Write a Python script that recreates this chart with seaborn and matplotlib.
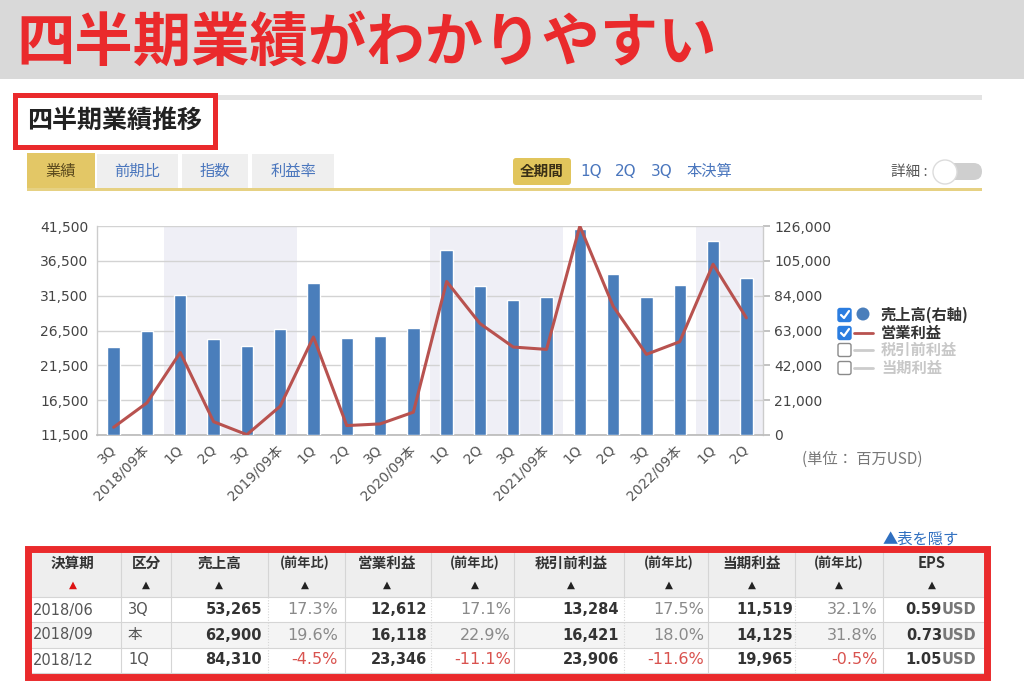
import matplotlib
matplotlib.use("Agg")
import matplotlib.pyplot as plt
import seaborn as sns
import pandas as pd
import numpy as np
from matplotlib.patches import Rectangle, FancyBboxPatch, Circle
from matplotlib.lines import Line2D

# ---------------- data ----------------
periods = ["2018/06", "2018/09", "2018/12", "2019/03", "2019/06", "2019/09",
           "2019/12", "2020/03", "2020/06", "2020/09", "2020/12", "2021/03",
           "2021/06", "2021/09", "2021/12", "2022/03", "2022/06", "2022/09",
           "2022/12", "2023/03"]
tick_labels = ["3Q", "2018/09本", "1Q", "2Q", "3Q", "2019/09本", "1Q", "2Q", "3Q",
               "2020/09本", "1Q", "2Q", "3Q", "2021/09本", "1Q", "2Q", "3Q",
               "2022/09本", "1Q", "2Q"]
fiscal_year = [2018, 2018, 2019, 2019, 2019, 2019, 2020, 2020, 2020, 2020,
               2021, 2021, 2021, 2021, 2022, 2022, 2022, 2022, 2023, 2023]
sales = [53265, 62900, 84310, 58015, 53809, 64040, 91819, 58313, 59685, 64698,
         111439, 89584, 81434, 83360, 123945, 97278, 82959, 90146, 117154, 94836]
op_income = [12612, 16118, 23346, 13415, 11544, 15625, 25569, 12853, 13091, 14775,
             33534, 27503, 24126, 23786, 41488, 29979, 23076, 24894, 36016, 28318]
left_ticks = [11500, 16500, 21500, 26500, 31500, 36500, 41500]
right_ticks = [0, 21000, 42000, 63000, 84000, 105000, 126000]

banner_title = "四半期業績がわかりやすい"
section_title = "四半期業績推移"
tabs = ["業績", "前期比", "指数", "利益率"]
period_buttons = ["全期間", "1Q", "2Q", "3Q", "本決算"]
legend_labels = ["売上高(右軸)", "営業利益", "税引前利益", "当期利益"]
legend_checked = [True, True, False, False]
unit_text = "(単位： 百万USD)"
hide_text = "▲表を隠す"

table_header = ["決算期", "区分", "売上高", "(前年比)", "営業利益", "(前年比)",
                "税引前利益", "(前年比)", "当期利益", "(前年比)", "EPS"]
tbl_period = ["2018/06", "2018/09", "2018/12"]
tbl_kind = ["3Q", "本", "1Q"]
tbl_sales = ["53,265", "62,900", "84,310"]
tbl_sales_yoy = ["17.3%", "19.6%", "-4.5%"]
tbl_op = ["12,612", "16,118", "23,346"]
tbl_op_yoy = ["17.1%", "22.9%", "-11.1%"]
tbl_pretax = ["13,284", "16,421", "23,906"]
tbl_pretax_yoy = ["17.5%", "18.0%", "-11.6%"]
tbl_net = ["11,519", "14,125", "19,965"]
tbl_net_yoy = ["32.1%", "31.8%", "-0.5%"]
tbl_eps = ["0.59", "0.73", "1.05"]

# ---------------- style ----------------
sns.set_theme(style="white")
plt.rcParams['font.family'] = ['Noto Sans CJK JP', 'DejaVu Sans']
LAT = ['DejaVu Sans', 'Noto Sans CJK JP']

RED = '#ea2a2c'
BLUE_TXT = '#4a76bd'
BAR = '#4a7ebb'
LINE = '#b8524f'

W, H = 1024, 683
fig = plt.figure(figsize=(W / 100, H / 100), dpi=100)
fig.patch.set_facecolor('white')

bg = fig.add_axes([0, 0, 1, 1], zorder=0)
bg.set_xlim(0, W)
bg.set_ylim(H, 0)
bg.axis('off')

def rect(x, y, w, h, **kw):
    bg.add_patch(Rectangle((x, y), w, h, **kw))

# banner
rect(0, 0, W, 79, fc='#d9d9d9', ec='none')
bg.text(16, 44, banner_title, fontsize=42, fontweight='bold', color=RED,
        va='center', ha='left')

# section header
rect(15, 95, 967, 5, fc='#e3e3e3', ec='none')
rect(14.5, 94.5, 200, 52, fc='white', ec=RED, lw=3.6, zorder=3)
bg.text(27, 121, section_title, fontsize=18, fontweight='bold', color='#222',
        va='center', ha='left', zorder=4)

# tabs
tab_geo = [(27, 153, 68), (97, 154, 81), (182, 154, 66), (252, 154, 82)]
for i, (lab, (x, y, w)) in enumerate(zip(tabs, tab_geo)):
    active = i == 0
    rect(x, y, w, 189 - y, fc='#e3c766' if active else '#efefef', ec='none')
    bg.text(x + w / 2, 171, lab, fontsize=11,
            color='#5b4a1d' if active else BLUE_TXT, ha='center', va='center')
rect(27, 188, 955, 3, fc='#e6d183', ec='none')

# period buttons
bg.add_patch(FancyBboxPatch((513, 158), 58, 27, boxstyle="round,pad=0,rounding_size=3",
                            fc='#e1c55c', ec='none'))
btn_x = [542, 591, 626, 662, 709]
for i, (lab, x) in enumerate(zip(period_buttons, btn_x)):
    if i == 0:
        bg.text(x, 171, lab, fontsize=10.5, fontweight='bold', color='#3a3016',
                ha='center', va='center')
    else:
        bg.text(x, 171, lab, fontsize=11, color=BLUE_TXT, ha='center', va='center',
                family=LAT if lab.endswith('Q') else None)

# detail toggle
bg.text(909, 172, "詳細 :", fontsize=10.5, color='#555', ha='center', va='center')
bg.add_patch(FancyBboxPatch((938, 163), 44, 17, boxstyle="round,pad=0,rounding_size=8.5",
                            fc='#cfcfcf', ec='none'))
bg.add_patch(Circle((945, 172), 12, fc='white', ec='#dcdcdc', lw=1, zorder=3))

# ---------------- chart ----------------
df = pd.DataFrame({"period": periods, "pos": np.arange(len(periods)),
                   "sales": sales, "op": op_income, "fy": fiscal_year})

ax = fig.add_axes([97 / W, 1 - 435 / H, 666 / W, 209 / H], zorder=2)
ax.set_facecolor('none')
ax2 = ax.twinx()

# shaded fiscal years
start = 0
for i in range(1, len(fiscal_year) + 1):
    if i == len(fiscal_year) or fiscal_year[i] != fiscal_year[start]:
        if fiscal_year[start] % 2 == 1:
            ax.axvspan(start - 0.5, i - 0.5, color='#efeff6', lw=0, zorder=0)
        start = i

sns.barplot(data=df, x="period", y="sales", color=BAR, saturation=1, width=0.37,
            errorbar=None, ax=ax, zorder=3)
ax.set_xlim(-0.5, len(periods) - 0.5)
ax.set_ylim(0, 126000)
ax.set_yticks(right_ticks)
ax.set_yticklabels([f"{v:,}" for v in right_ticks])
ax.yaxis.tick_right()
ax.set_axisbelow(True)
ax.grid(axis='y', color='#d3d3d3', lw=1)
ax.set_xlabel('')
ax.set_ylabel('')
ax.set_xticks(np.arange(len(periods)))
ax.set_xticklabels(tick_labels, rotation=45, ha='right', va='center',
                   rotation_mode='anchor', family=LAT)
ax.set_xticks(np.arange(0.5, len(periods) - 0.5, 1), minor=True)
ax.tick_params(axis='x', which='major', length=0, pad=9, labelsize=10, labelcolor='#555')
ax.tick_params(axis='x', which='minor', direction='in', length=6, color='#cccccc', width=1)
ax.tick_params(axis='y', which='major', right=True, left=False, length=5, color='#bbbbbb',
               labelsize=10, labelcolor='#444', pad=3)
for lab in ax.get_yticklabels():
    lab.set_family(LAT)
for s in ['left', 'right']:
    ax.spines[s].set_color('#cccccc')
    ax.spines[s].set_linewidth(1)
ax.spines['bottom'].set_color('#bbbbbb')
ax.spines['top'].set_visible(False)

sns.lineplot(data=df, x="pos", y="op", ax=ax2, color=LINE, lw=2.2, sort=False, zorder=5)
ax2.set_ylim(11500, 41500)
ax2.set_yticks(left_ticks)
ax2.set_yticklabels([f"{v:,}" for v in left_ticks])
ax2.yaxis.tick_left()
ax2.set_ylabel('')
ax2.set_xlabel('')
ax2.tick_params(axis='y', length=0, labelsize=10, labelcolor='#444', pad=6)
for lab in ax2.get_yticklabels():
    lab.set_family(LAT)
for s in ax2.spines.values():
    s.set_visible(False)

# legend (drawn as page elements)
leg_y = [315, 333, 350, 368]
for i, (lab, chk, y) in enumerate(zip(legend_labels, legend_checked, leg_y)):
    if chk:
        bg.add_patch(FancyBboxPatch((838, y - 6.5), 13, 13, boxstyle="round,pad=0,rounding_size=2",
                                    fc='#2b7de0', ec='#2b7de0', lw=1))
        bg.add_line(Line2D([841, 844, 849], [y, y + 3, y - 4], color='white', lw=1.6))
    else:
        bg.add_patch(FancyBboxPatch((838, y - 6.5), 13, 13, boxstyle="round,pad=0,rounding_size=2",
                                    fc='white', ec='#8a8a8a', lw=1))
    if i == 0:
        bg.add_patch(Circle((863, y - 1), 6.5, fc=BAR, ec='none'))
    else:
        bg.add_line(Line2D([854, 873], [y, y], color=LINE if chk else '#cccccc', lw=2))
    bg.text(881, y, lab, fontsize=11, fontweight='bold',
            color='#333' if chk else '#c8c8c8', ha='left', va='center')

bg.text(802, 459, unit_text, fontsize=11, color='#777', ha='left', va='center')

# ---------------- table ----------------
bg.text(883, 539, hide_text, fontsize=11, color='#2f6fc0', ha='left', va='center')

rect(30, 551, 955, 46, fc='#eeeeee', ec='none')
row_top = [597, 622, 648]
row_bg = ['white', '#f4f4f4', 'white']
for yt, c in zip(row_top, row_bg):
    rect(30, yt, 955, 25.5, fc=c, ec='none')
rect(30, 673, 955, 6, fc='#f0f0f0', ec='none')
for yy in [597, 622, 648, 673]:
    bg.add_line(Line2D([30, 985], [yy, yy], color='#d5d5d5', lw=0.8))
solid_cols = [121, 171, 345, 514, 708, 883]
dashed_cols = [268, 431, 624, 795]
for x in solid_cols:
    bg.add_line(Line2D([x, x], [551, 673], color='#d5d5d5', lw=0.8))
for x in dashed_cols:
    bg.add_line(Line2D([x, x], [551, 597], color='#d5d5d5', lw=0.8))
    bg.add_line(Line2D([x, x], [597, 673], color='#d5d5d5', lw=0.8, ls=(0, (1, 1.5))))

head_x = [73, 146, 219, 305, 387, 475, 571, 669, 752, 839, 932]
for i, (lab, x) in enumerate(zip(table_header, head_x)):
    small = lab.startswith('(')
    bg.text(x, 563, lab, fontsize=9.5 if small else 10.5, fontweight='bold', color='#333',
            ha='center', va='center')
    bg.text(x, 585, '▲', fontsize=7.5, color='#dd1111' if i == 0 else '#222',
            ha='center', va='center', family=LAT)

row_y = [610, 635, 660]
value_cols = [(tbl_sales, 262), (tbl_op, 427), (tbl_pretax, 619), (tbl_net, 793)]
yoy_cols = [(tbl_sales_yoy, 338), (tbl_op_yoy, 511), (tbl_pretax_yoy, 704), (tbl_net_yoy, 878)]
for r, y in enumerate(row_y):
    bg.text(33, y, tbl_period[r], fontsize=10.5, color='#555', ha='left', va='center', family=LAT)
    bg.text(128, y, tbl_kind[r], fontsize=10.5, color='#555', ha='left', va='center', family=LAT)
    for vals, xr in value_cols:
        bg.text(xr, y, vals[r], fontsize=10.5, fontweight='bold', color='#333',
                ha='right', va='center', family=LAT)
    for vals, xr in yoy_cols:
        v = vals[r]
        bg.text(xr, y, v, fontsize=11.5, color='#d9534f' if v.startswith('-') else '#8a8a8a',
                ha='right', va='center', family=LAT)
    bg.text(942, y, tbl_eps[r], fontsize=10.5, fontweight='bold', color='#333',
            ha='right', va='center', family=LAT)
    bg.text(942, y, "USD", fontsize=10.5, fontweight='bold', color='#777',
            ha='left', va='center', family=LAT)

rect(27.5, 548.5, 959, 128, fill=False, ec=RED, lw=5, zorder=5)

fig.savefig("out.png", dpi=100, facecolor='white')
